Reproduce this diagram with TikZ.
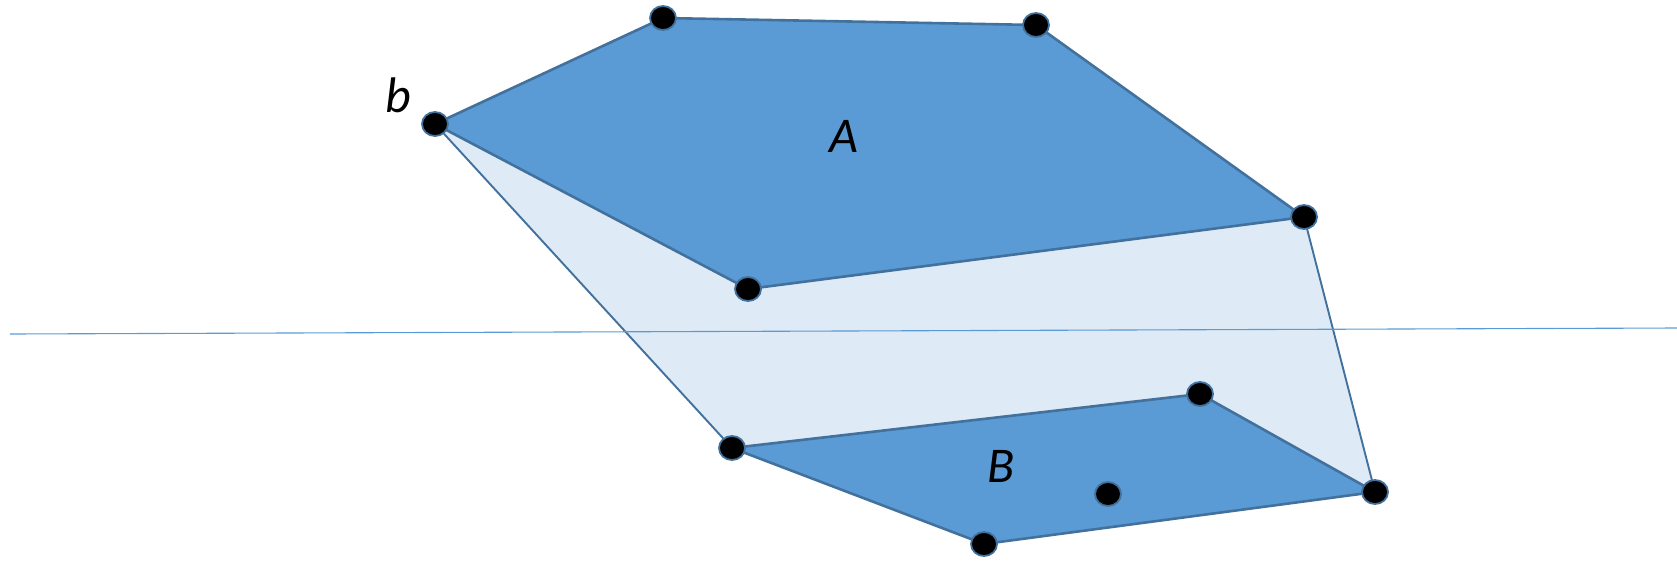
\documentclass[tikz,border=0pt]{standalone}
\usepackage{fontspec}
\usetikzlibrary{shapes.geometric}
\setmainfont{Carlito}
\definecolor{darkfill}{HTML}{5B9BD5}
\definecolor{lightfill}{HTML}{DEEAF6}
\definecolor{edge}{HTML}{41719C}
\begin{document}
\begin{tikzpicture}[x=1pt,y=-1pt,
  vertex/.style={ellipse,draw=edge,line width=1.8pt,fill=black,minimum width=26pt,minimum height=24pt,inner sep=0pt},
  lbl/.style={font=\fontsize{50}{50}\selectfont\itshape,inner sep=0pt}]
\useasboundingbox (0,0) rectangle (1677,560);
\coordinate (b) at (435,124);
\coordinate (t1) at (663,18);
\coordinate (t2) at (1036,25);
\coordinate (r) at (1304,217);
\coordinate (ab) at (748,289);
\coordinate (bl) at (732,448);
\coordinate (btr) at (1200,394);
\coordinate (br) at (1375,492);
\coordinate (bb) at (984,544);
\coordinate (bi) at (1108,494);
\coordinate (l1) at (10,334);
\coordinate (l2) at (1677,328);
\fill[lightfill] (b) -- (ab) -- (r) -- (br) -- (btr) -- (bl) -- cycle;
\draw[edge,line width=1.9pt] (b) -- (bl);
\draw[edge,line width=1.9pt] (r) -- (br);
\draw[darkfill,line width=1.1pt] (l1) -- (l2);
\filldraw[fill=darkfill,draw=edge,line width=2.6pt,line join=round] (b) -- (t1) -- (t2) -- (r) -- (ab) -- cycle;
\filldraw[fill=darkfill,draw=edge,line width=2.6pt,line join=round] (bl) -- (btr) -- (br) -- (bb) -- cycle;
\foreach \p in {b,t1,t2,r,ab,bl,btr,br,bb,bi} \node[vertex] (v\p) at (\p) {};
\node[lbl] (lb) at (398,95) {b};
\node[lbl] (lA) at (844,136) {A};
\node[lbl] (lB) at (1001,466) {B};
\end{tikzpicture}
\end{document}
